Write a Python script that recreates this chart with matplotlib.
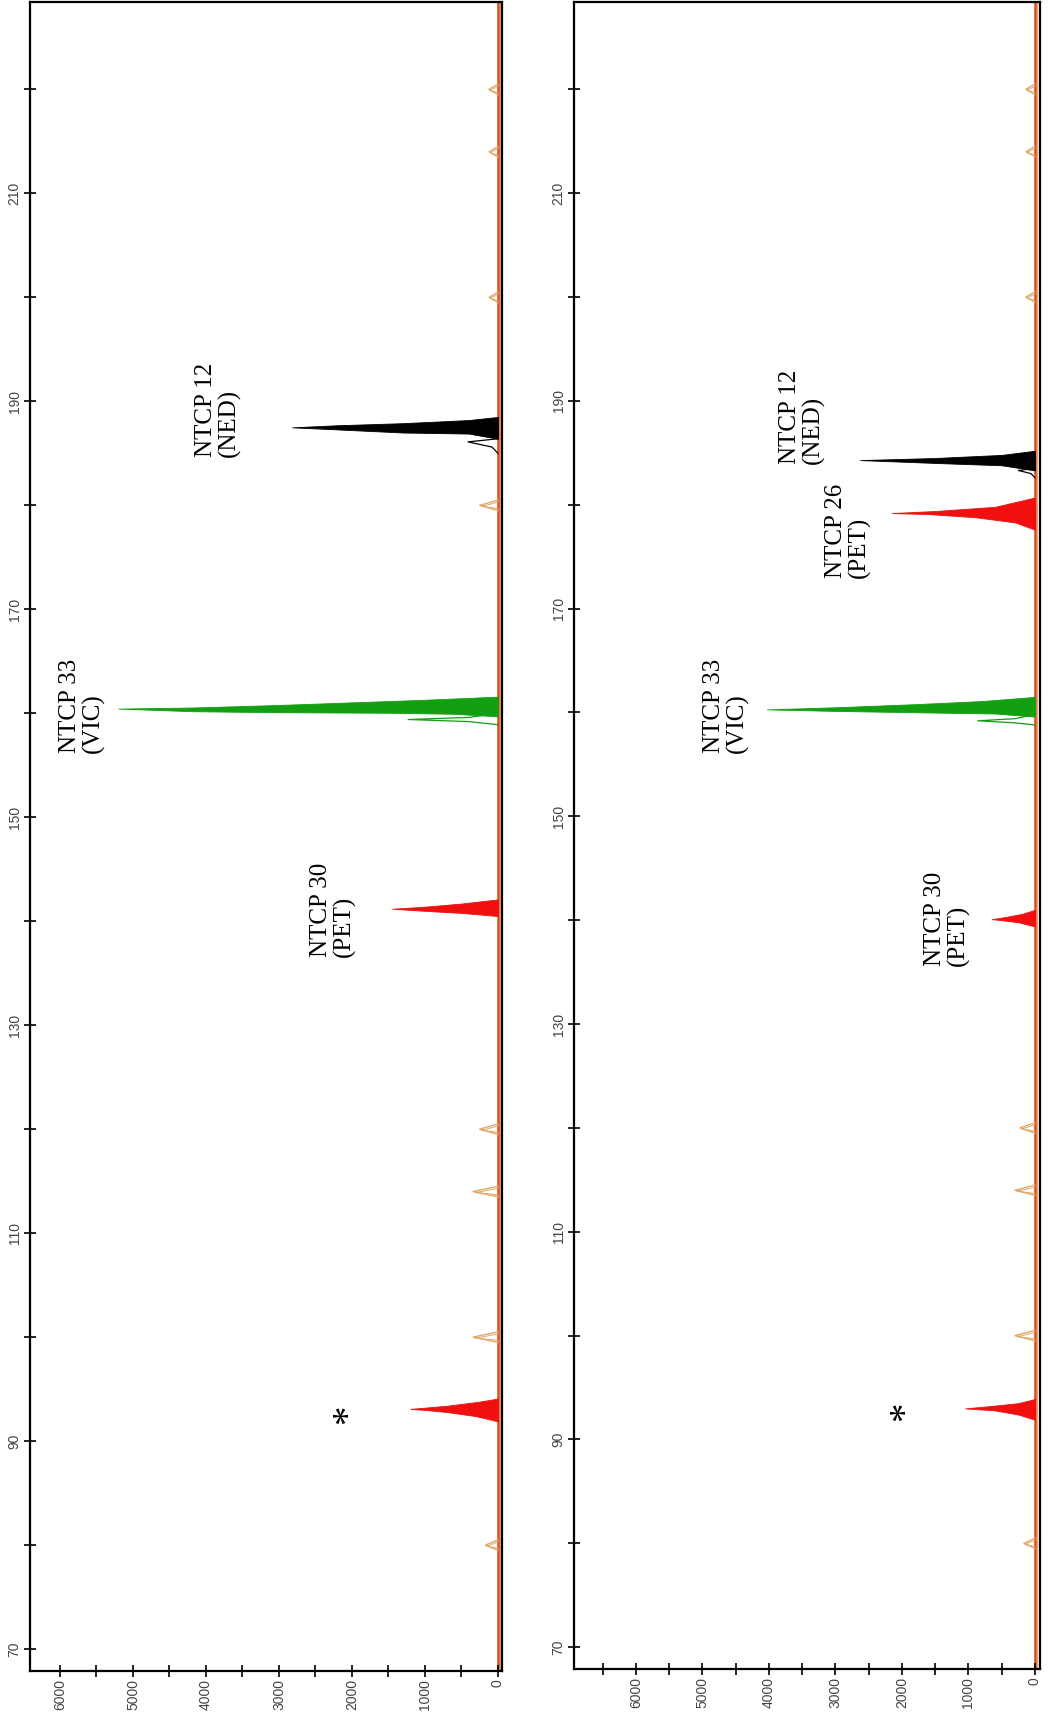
import numpy as np
import matplotlib
matplotlib.use("Agg")
import matplotlib.pyplot as plt
from matplotlib.ticker import FixedLocator, MultipleLocator

# 軸の範囲 (RFU は左が大きい / サイズ bp は上が大きい)
RFU_LIM_TOP = (6411, -55)
RFU_LIM_BOTTOM = (6932, -75)
BP_LIM = (67.9, 228.4)

# サイズスタンダード (LIZ) のピーク位置と高さ
LIZ_SIZES = [80, 100, 114, 120, 180, 200, 214, 220]
LIZ_HEIGHTS_1 = [170, 340, 340, 250, 250, 120, 120, 125]
LIZ_HEIGHTS_2 = [165, 300, 300, 225, 200, 135, 135, 135]

# パネル1のピーク (bp, RFU)
P1_NED_BP = [186.4, 186.9, 187.0, 187.3, 187.5, 187.7, 187.9, 188.2, 188.5]
P1_NED_RFU = [0, 400, 1300, 2200, 2820, 2200, 1300, 400, 0]
P1_VIC_BP = [159.7, 159.95, 160.05, 160.1, 160.2, 160.45, 160.55, 160.8, 161.0, 161.3, 161.6]
P1_VIC_RFU = [0, 600, 1500, 3000, 4200, 5200, 4200, 3000, 2200, 1000, 0]
P1_PET30_BP = [140.5, 140.8, 141.0, 141.2, 141.4, 141.7, 142.1]
P1_PET30_RFU = [0, 500, 1000, 1450, 1000, 500, 0]
P1_STAR_BP = [91.9, 92.4, 92.8, 93.0, 93.1, 93.4, 93.8, 94.1]
P1_STAR_RFU = [0, 300, 700, 1000, 1200, 700, 250, 0]
# 裏側のアウトライン
P1_VIC_SUB_BP = [158.9, 159.2, 159.4, 159.6, 160.0]
P1_VIC_SUB_RFU = [0, 400, 1230, 400, 0]
P1_NED_SUB_BP = [185.0, 185.6, 186.1, 186.4]
P1_NED_SUB_RFU = [0, 80, 410, 0]

# パネル2のピーク
P2_NED_BP = [183.3, 183.8, 184.0, 184.3, 184.5, 184.8, 185.2]
P2_NED_RFU = [0, 500, 1400, 2630, 1500, 500, 0]
P2_PET26_BP = [177.6, 178.3, 178.8, 179.1, 179.2, 179.4, 179.8, 180.7]
P2_PET26_RFU = [0, 300, 900, 1600, 2150, 1500, 600, 0]
P2_VIC_BP = [159.6, 159.9, 160.0, 160.15, 160.3, 160.5, 160.8, 161.1, 161.5]
P2_VIC_RFU = [0, 600, 1600, 3000, 4030, 3000, 1800, 800, 0]
P2_PET30_BP = [139.4, 139.8, 140.0, 140.1, 140.3, 140.6, 141.0]
P2_PET30_RFU = [0, 250, 500, 650, 450, 200, 0]
P2_STAR_BP = [91.9, 92.4, 92.8, 93.0, 93.2, 93.5, 93.9]
P2_STAR_RFU = [0, 250, 600, 1050, 700, 250, 0]
P2_VIC_SUB_BP = [158.8, 159.0, 159.2, 159.4, 159.8]
P2_VIC_SUB_RFU = [0, 300, 860, 300, 0]
P2_NED_SUB_BP = [182.6, 183.0, 183.3, 183.5]
P2_NED_SUB_RFU = [0, 60, 250, 0]

# ラベル (text, RFU, bp)
P1_LABELS = [("NTCP 12\n(NED)", 3836, 184.6),
             ("NTCP 33\n(VIC)", 5700, 156.2),
             ("NTCP 30\n(PET)", 2260, 136.6)]
P1_STAR = (2040, 92.6)
P2_LABELS = [("NTCP 12\n(NED)", 3500, 183.9),
             ("NTCP 26\n(PET)", 2810, 172.9),
             ("NTCP 33\n(VIC)", 4650, 156.1),
             ("NTCP 30\n(PET)", 1320, 135.6)]
P2_STAR = (1940, 92.7)

GREEN = "#12a012"
RED = "#f01010"
BLACK = "#000000"
LIZ = "#e0a868"
SERIF = ["Liberation Serif", "DejaVu Serif"]


def FillPeak(ax, bp, rfu, color):
    ax.fill_betweenx(bp, 0, rfu, color=color, lw=0.6, zorder=3)


def OutlinePeak(ax, bp, rfu, color):
    ax.plot(rfu, bp, color=color, lw=0.9, zorder=2)


def SetupAxes(ax, rfulim):
    ax.set_xlim(*rfulim)
    ax.set_ylim(*BP_LIM)
    ax.xaxis.set_major_locator(MultipleLocator(1000))
    ax.xaxis.set_minor_locator(MultipleLocator(500))
    ax.yaxis.set_major_locator(FixedLocator(np.arange(70, 230, 20)))
    ax.yaxis.set_minor_locator(FixedLocator(np.arange(80, 230, 20)))
    ax.tick_params(which="both", direction="inout", length=8, width=1.2, color="black")
    ax.tick_params(axis="both", labelrotation=90, labelsize=10, labelcolor="#444444",
                   pad=2, labelfontfamily="Liberation Sans")
    for lab in ax.get_yticklabels():
        lab.set_va("center")
    for s in ax.spines.values():
        s.set_linewidth(1.6)
    # ベースライン
    ax.axvline(0, color="#d84818", lw=1.8, zorder=1)
    ax.axvline(-25, color=LIZ, lw=0.8, zorder=1)


def DrawLiz(ax, heights):
    for s, h in zip(LIZ_SIZES, heights):
        ax.plot([0, h, 0], [s - 0.5, s, s + 0.5], color=LIZ, lw=1.0, zorder=2)
        ax.plot([0, h * 0.9, 0], [s - 0.3, s - 0.1, s + 0.3], color=LIZ, lw=0.7, zorder=2)


def Labels(ax, labels, star):
    for txt, x, y in labels:
        ax.text(x, y, txt, rotation=90, ha="center", va="bottom", fontsize=18,
                family=SERIF, multialignment="left", linespacing=1.05, zorder=5)
    ax.text(star[0], star[1], "*", rotation=90, ha="center", va="center",
            fontsize=28, family=SERIF, zorder=5)


fig = plt.figure(figsize=(10.51, 17.12), dpi=100)
ax1 = fig.add_axes([0.0285, 0.0240, 0.4491, 0.9748])
ax2 = fig.add_axes([0.5461, 0.0251, 0.4434, 0.9737])

SetupAxes(ax1, RFU_LIM_TOP)
DrawLiz(ax1, LIZ_HEIGHTS_1)
OutlinePeak(ax1, P1_VIC_SUB_BP, P1_VIC_SUB_RFU, GREEN)
OutlinePeak(ax1, P1_NED_SUB_BP, P1_NED_SUB_RFU, BLACK)
FillPeak(ax1, P1_NED_BP, P1_NED_RFU, BLACK)
FillPeak(ax1, P1_VIC_BP, P1_VIC_RFU, GREEN)
FillPeak(ax1, P1_PET30_BP, P1_PET30_RFU, RED)
FillPeak(ax1, P1_STAR_BP, P1_STAR_RFU, RED)
Labels(ax1, P1_LABELS, P1_STAR)

SetupAxes(ax2, RFU_LIM_BOTTOM)
DrawLiz(ax2, LIZ_HEIGHTS_2)
OutlinePeak(ax2, P2_VIC_SUB_BP, P2_VIC_SUB_RFU, GREEN)
OutlinePeak(ax2, P2_NED_SUB_BP, P2_NED_SUB_RFU, BLACK)
FillPeak(ax2, P2_NED_BP, P2_NED_RFU, BLACK)
FillPeak(ax2, P2_PET26_BP, P2_PET26_RFU, RED)
FillPeak(ax2, P2_VIC_BP, P2_VIC_RFU, GREEN)
FillPeak(ax2, P2_PET30_BP, P2_PET30_RFU, RED)
FillPeak(ax2, P2_STAR_BP, P2_STAR_RFU, RED)
Labels(ax2, P2_LABELS, P2_STAR)

fig.savefig("out.png", dpi=100)
